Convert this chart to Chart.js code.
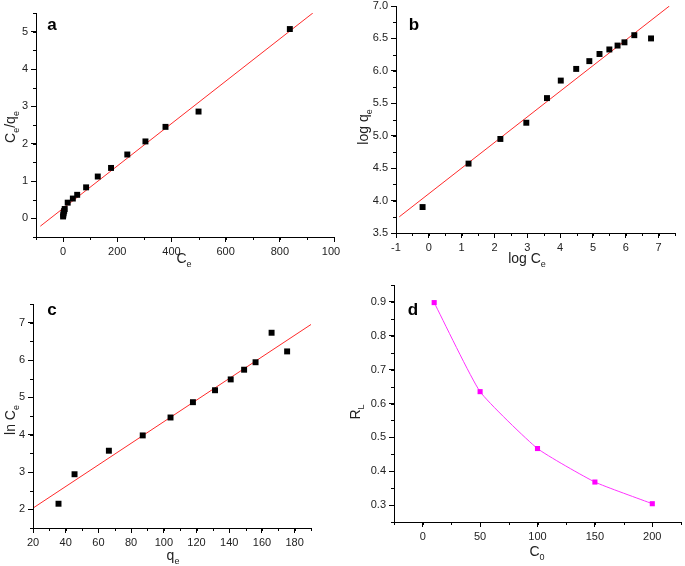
<!DOCTYPE html>
<html>
<head>
<meta charset="utf-8">
<script src="https://cdn.jsdelivr.net/npm/chart.js@4.4.1/dist/chart.umd.min.js"></script>
<style>
  body { margin: 0; background: #fff; }
  .panel { position: absolute; }
</style>
</head>
<body>
<div class="panel" style="left:0;top:0"><canvas id="chartA" width="340" height="280"></canvas></div>
<div class="panel" style="left:340px;top:0"><canvas id="chartB" width="345" height="280"></canvas></div>
<div class="panel" style="left:0;top:280px"><canvas id="chartC" width="340" height="286"></canvas></div>
<div class="panel" style="left:340px;top:280px"><canvas id="chartD" width="345" height="286"></canvas></div>
<script>
// Panel a: Langmuir
const aCe = [0, 1, 2, 4, 6, 17, 36, 52, 85, 128, 177, 237, 304, 378, 500, 837];
const aCeQe = [0.05, 0.1, 0.15, 0.2, 0.25, 0.42, 0.53, 0.63, 0.83, 1.12, 1.35, 1.71, 2.06, 2.45, 2.86, 5.07];
const aFitX = [-84, 922];
const aFitY = [-0.21, 5.5];
const aXTicks = [0, 200, 400, 600, 800, 1000];
const aYTicks = [0, 1, 2, 3, 4, 5];

// Panel b: Freundlich
const bLogCe = [-0.19, 1.21, 2.18, 2.97, 3.60, 4.02, 4.49, 4.89, 5.20, 5.50, 5.75, 5.96, 6.26, 6.77];
const bLogQe = [3.90, 4.57, 4.95, 5.20, 5.58, 5.85, 6.03, 6.15, 6.26, 6.33, 6.39, 6.44, 6.55, 6.50];
const bFitX = [-0.9, 7.33];
const bFitY = [3.75, 7.0];
const bXTicks = [-1, 0, 1, 2, 3, 4, 5, 6, 7];
const bYTicks = [3.5, 4.0, 4.5, 5.0, 5.5, 6.0, 6.5, 7.0];

// Panel c: Temkin
const cQe = [35.6, 45.4, 66.4, 87.1, 104.1, 117.8, 131.3, 140.9, 149.1, 156.1, 165.9, 175.4];
const cLnCe = [2.15, 2.94, 3.57, 3.98, 4.46, 4.87, 5.19, 5.48, 5.74, 5.94, 6.73, 6.23];
const cFitX = [20.6, 190.3];
const cFitY = [2.05, 6.96];
const cXTicks = [20, 40, 60, 80, 100, 120, 140, 160, 180];
const cYTicks = [2, 3, 4, 5, 6, 7];

// Panel d: separation factor
const dC0 = [10, 50, 100, 150, 200];
const dRL = [0.898, 0.635, 0.467, 0.368, 0.304];
const dXTicks = [0, 50, 100, 150, 200];
const dYTicks = [0.3, 0.4, 0.5, 0.6, 0.7, 0.8, 0.9];

const FONT = '"Liberation Sans", Arial, sans-serif';

function toPoints(xs, ys) {
    return xs.map((x, i) => ({ x: x, y: ys[i] }));
}

// draws minor ticks, axis titles with subscripts and the panel letter
const decorations = {
    id: 'decorations',
    afterDraw(chart, args, opts) {
        const ctx = chart.ctx;
        ctx.save();
        ctx.strokeStyle = '#000';
        ctx.lineWidth = 1;
        ['x', 'y'].forEach(id => {
            const s = chart.scales[id];
            const step = opts.minor[id];
            for (let v = Math.ceil(s.min / step - 1e-9) * step; v <= s.max + 1e-9; v += step) {
                const p = Math.round(s.getPixelForValue(v)) + 0.5;
                ctx.beginPath();
                if (id === 'x') { ctx.moveTo(p, s.top); ctx.lineTo(p, s.top + 3); }
                else { ctx.moveTo(s.right, p); ctx.lineTo(s.right - 3, p); }
                ctx.stroke();
            }
        });

        ctx.fillStyle = '#222';
        ctx.textBaseline = 'alphabetic';
        function drawParts(parts, cx, cy) {
            let w = 0;
            parts.forEach(p => {
                ctx.font = (p[1] ? '9px ' : '14px ') + FONT;
                w += ctx.measureText(p[0]).width;
            });
            let x = cx - w / 2;
            parts.forEach(p => {
                ctx.font = (p[1] ? '9px ' : '14px ') + FONT;
                ctx.fillText(p[0], x, cy + 5 + (p[1] ? 4 : 0));
                x += ctx.measureText(p[0]).width;
            });
        }
        drawParts(opts.xTitle, opts.xTitlePos[0], opts.xTitlePos[1]);
        ctx.save();
        ctx.translate(opts.yTitlePos[0], opts.yTitlePos[1]);
        ctx.rotate(-Math.PI / 2);
        drawParts(opts.yTitle, 0, 0);
        ctx.restore();

        ctx.fillStyle = '#000';
        ctx.font = 'bold 17px ' + FONT;
        ctx.textAlign = 'center';
        ctx.fillText(opts.letter, opts.letterPos[0], opts.letterPos[1]);
        ctx.restore();
    }
};

function axis(min, max, ticks, size, fmt) {
    return {
        type: 'linear',
        min: min,
        max: max,
        afterBuildTicks: s => { s.ticks = ticks.map(v => ({ value: v })); },
        afterFit: s => {
            if (s.isHorizontal()) s.height = size; else s.width = size;
            s.paddingLeft = 0; s.paddingRight = 0; s.paddingTop = 0; s.paddingBottom = 0;
        },
        grid: { display: true, drawOnChartArea: false, drawTicks: true, tickLength: 5, color: '#000' },
        border: { display: true, color: '#000', width: 1 },
        ticks: {
            color: '#222',
            padding: 3,
            autoSkip: false,
            maxRotation: 0,
            font: { family: FONT, size: 11 },
            callback: fmt || (v => String(v))
        }
    };
}

function makeChart(id, datasets, cfg) {
    return new Chart(document.getElementById(id), {
        type: 'scatter',
        data: { datasets: datasets },
        options: {
            responsive: false,
            animation: false,
            layout: { padding: cfg.padding },
            scales: {
                x: axis(cfg.x[0], cfg.x[1], cfg.xTicks, cfg.xSize, cfg.xFmt),
                y: axis(cfg.y[0], cfg.y[1], cfg.yTicks, cfg.ySize, cfg.yFmt)
            },
            plugins: {
                legend: { display: false },
                tooltip: { enabled: false },
                decorations: cfg.deco
            }
        },
        plugins: [decorations]
    });
}

function fitLine(xs, ys) {
    return {
        data: toPoints(xs, ys), showLine: true, pointRadius: 0,
        borderColor: '#ff2a2a', borderWidth: 1, order: 2
    };
}

function squares(xs, ys) {
    return {
        data: toPoints(xs, ys), pointStyle: 'rect', pointRadius: 4.2,
        pointBorderWidth: 0, backgroundColor: '#000', borderColor: '#000', order: 1
    };
}

makeChart('chartA', [squares(aCe, aCeQe), fitLine(aFitX, aFitY)], {
    x: [-100, 1000], y: [-0.5, 5.5], xTicks: aXTicks, yTicks: aYTicks,
    xSize: 43, ySize: 36, padding: { top: 13, right: 6, left: 0, bottom: 0 },
    deco: {
        minor: { x: 100, y: 0.5 },
        xTitle: [['C', 0], ['e', 1]], xTitlePos: [184, 258],
        yTitle: [['C', 0], ['e', 1], ['/q', 0], ['e', 1]], yTitlePos: [10, 127],
        letter: 'a', letterPos: [52, 30]
    }
});

makeChart('chartB', [squares(bLogCe, bLogQe), fitLine(bFitX, bFitY)], {
    x: [-1, 7.5], y: [3.5, 7.0], xTicks: bXTicks, yTicks: bYTicks,
    xSize: 47, ySize: 56, padding: { top: 6, right: 10, left: 0, bottom: 0 },
    yFmt: v => v.toFixed(1),
    deco: {
        minor: { x: 0.5, y: 0.25 },
        xTitle: [['log C', 0], ['e', 1]], xTitlePos: [187, 258],
        yTitle: [['log q', 0], ['e', 1]], yTitlePos: [23, 127],
        letter: 'b', letterPos: [74, 30]
    }
});

makeChart('chartC', [squares(cQe, cLnCe), fitLine(cFitX, cFitY)], {
    x: [20, 190], y: [1.5, 7.5], xTicks: cXTicks, yTicks: cYTicks,
    xSize: 38, ySize: 33, padding: { top: 24, right: 29, left: 0, bottom: 0 },
    deco: {
        minor: { x: 10, y: 0.5 },
        xTitle: [['q', 0], ['e', 1]], xTitlePos: [173, 275],
        yTitle: [['ln C', 0], ['e', 1]], yTitlePos: [10, 140],
        letter: 'c', letterPos: [52, 35]
    }
});

makeChart('chartD', [
    {
        data: toPoints(dC0, dRL), showLine: true, pointStyle: 'rect', pointRadius: 3.6,
        pointBorderWidth: 0, backgroundColor: '#ff00ff', borderColor: '#ff33ff', borderWidth: 1,
        tension: 0.15
    }
], {
    x: [-25, 225], y: [0.25, 0.95], xTicks: dXTicks, yTicks: dYTicks,
    xSize: 44, ySize: 54, padding: { top: 5, right: 2, left: 0, bottom: 0 },
    yFmt: v => v.toFixed(1),
    deco: {
        minor: { x: 25, y: 0.05 },
        xTitle: [['C', 0], ['0', 1]], xTitlePos: [197, 271],
        yTitle: [['R', 0], ['L', 1]], yTitlePos: [15, 132],
        letter: 'd', letterPos: [73, 35]
    }
});
</script>
</body>
</html>
